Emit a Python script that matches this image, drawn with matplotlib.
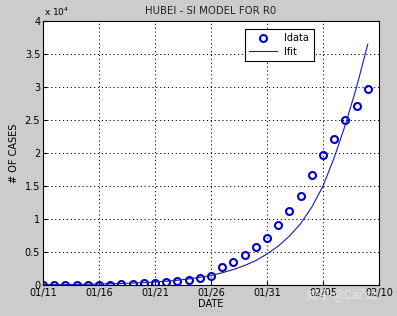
import matplotlib
matplotlib.use("Agg")
import matplotlib.pyplot as plt
import numpy as np

plt.rcParams['font.family'] = ['DejaVu Sans', 'Noto Sans CJK SC']

days = list(range(30))
idata = [41, 41, 41, 41, 41, 45, 62, 121, 198, 270, 375, 444, 549, 729, 1052,
         1423, 2714, 3554, 4586, 5806, 7153, 9074, 11177, 13522, 16678,
         19665, 22112, 24953, 27100, 29631]
ifit = [45, 57, 72, 90, 114, 144, 181, 228, 287, 362, 456, 575, 724, 912, 1150,
        1450, 1850, 2350, 2950, 3700, 4700, 5900, 7400, 9300, 11800,
        15000, 19300, 24300, 30000, 36500]
xtick_pos = [0, 5, 10, 15, 20, 25, 30]
xtick_labels = ['01/11', '01/16', '01/21', '01/26', '01/31', '02/05', '02/10']
ytick_pos = [0, 5000, 10000, 15000, 20000, 25000, 30000, 35000, 40000]
ytick_labels = ['0', '0.5', '1', '1.5', '2', '2.5', '3', '3.5', '4']

fig = plt.figure(figsize=(3.97, 3.16), dpi=100, facecolor='#cccccc')
ax = fig.add_axes([43/397, 1-285/316, 336/397, 264/316])
ax.set_facecolor('white')

ax.plot(days, idata, 'o', mfc='none', mec='#0000c8', mew=1.5, ms=5, label='Idata')
ax.plot(days, ifit, '-', color='#1a1aaa', lw=0.8, label='Ifit')

ax.set_xlim(0, 30)
ax.set_ylim(0, 40000)
ax.set_xticks(xtick_pos)
ax.set_xticklabels(xtick_labels)
ax.set_yticks(ytick_pos)
ax.set_yticklabels(ytick_labels)
ax.tick_params(direction='in', length=3, labelsize=7, pad=2, color='black')
ax.grid(True, color='black', linestyle=(0, (1.2, 2.8)), linewidth=0.7)
for s in ax.spines.values():
    s.set_linewidth(0.8)
    s.set_color('black')

ax.set_title('HUBEI - SI MODEL FOR R0', fontsize=7.3, pad=5, color='#222222')
ax.set_xlabel('DATE', fontsize=7, labelpad=1)
ax.set_ylabel('# OF CASES', fontsize=7, labelpad=4)
fig.text(44/397, 1-12/316, r'x 10$^4$', fontsize=6.5, ha='left', va='center')

leg = ax.legend(loc='upper left', bbox_to_anchor=((245-43)/336, (285-29)/264),
                fontsize=7, frameon=True, fancybox=False, edgecolor='black',
                framealpha=1, borderpad=0.45, handlelength=2.8, labelspacing=0.35,
                handletextpad=0.8, borderaxespad=0)
leg.get_frame().set_linewidth(0.8)

fig.text(307/397, 1-295/316, '知乎 @Cai\'sz', fontsize=8.5, color='#f2f2f2',
         alpha=0.85, ha='left', va='center',
         family=['Noto Sans CJK SC', 'DejaVu Sans'])

fig.savefig('out.png', dpi=100, facecolor=fig.get_facecolor())
